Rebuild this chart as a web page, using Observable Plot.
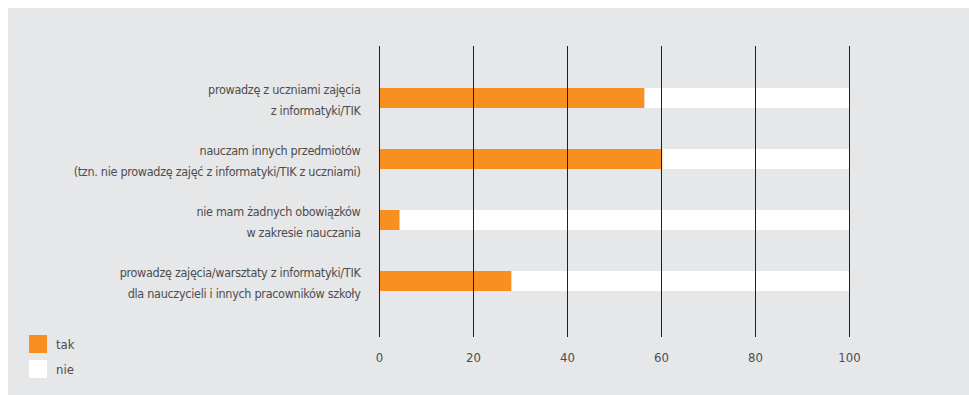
<!DOCTYPE html>
<html>
<head>
<meta charset="utf-8">
<script src="https://cdn.jsdelivr.net/npm/d3@7"></script>
<script src="https://cdn.jsdelivr.net/npm/@observablehq/plot@0.6"></script>
<style>
  html, body { margin: 0; padding: 0; background: #ffffff; }
  #wrap { position: relative; width: 969px; height: 395px; }
  #chart { position: absolute; left: 8px; top: 8px; width: 961px; height: 387px; background: #e6e7e8; }
  #chart svg { display: block; background: transparent; font-stretch: condensed; }
  #chart svg g[aria-label="y-axis tick label"] text { letter-spacing: -0.3px; }
  .legend { position: absolute; left: 29px; top: 335px; font-family: "DejaVu Sans", sans-serif; font-stretch: condensed; font-size: 13px; color: #4d4d4f; }
  .legend .row { display: flex; align-items: center; height: 18px; margin-bottom: 7px; }
  .legend .sw { width: 18px; height: 18px; margin-right: 9px; }
</style>
</head>
<body>
<div id="wrap">
  <div id="chart"></div>
</div>
<script>
// Categories (top to bottom) and shares in percent
const categories = [
  "prowadzę z uczniami zajęcia\nz informatyki/TIK",
  "nauczam innych przedmiotów\n(tzn. nie prowadzę zajęć z informatyki/TIK z uczniami)",
  "nie mam żadnych obowiązków\nw zakresie nauczania",
  "prowadzę zajęcia/warsztaty z informatyki/TIK\ndla nauczycieli i innych pracowników szkoły"
];
const tak = [56.5, 60.3, 4.4, 28.2];
const nie = [43.5, 39.7, 95.6, 71.8];
const seriesNames = ["tak", "nie"];
const seriesColors = ["#f7901e", "#ffffff"];
const xTicks = [0, 20, 40, 60, 80, 100];

const rows = [];
categories.forEach((c, i) => {
  rows.push({category: c, series: "tak", value: tak[i]});
  rows.push({category: c, series: "nie", value: nie[i]});
});

const font = "'DejaVu Sans', sans-serif";
const textColor = "#4d4d4f";

const chart = Plot.plot({
  width: 961,
  height: 387,
  marginLeft: 371,
  marginRight: 120,
  marginTop: 38,
  marginBottom: 58,
  style: {fontFamily: font, fontSize: "12.5px", color: textColor, background: "transparent"},
  x: {domain: [0, 100]},
  y: {domain: categories, range: [58.5, 305.1], paddingInner: 0.676, paddingOuter: 0.338},
  color: {domain: seriesNames, range: seriesColors},
  marks: [
    Plot.barX(rows, Plot.stackX({y: "category", x: "value", fill: "series", order: seriesNames})),
    Plot.ruleX(xTicks, {stroke: "#231f20", strokeWidth: 1}),
    Plot.axisX({ticks: xTicks, tickSize: 0, tickPadding: 15, label: null, fill: textColor, fontSize: 13}),
    Plot.axisY({tickSize: 0, tickPadding: 19, label: null, fill: textColor, fontSize: 12.5, lineHeight: 1.7, dy: -1})
  ]
});
document.getElementById("chart").appendChild(chart);

// Legend
const legend = document.createElement("div");
legend.className = "legend";
seriesNames.forEach((s, i) => {
  const row = document.createElement("div");
  row.className = "row";
  const sw = document.createElement("div");
  sw.className = "sw";
  sw.style.background = seriesColors[i];
  const label = document.createElement("span");
  label.textContent = s;
  row.appendChild(sw);
  row.appendChild(label);
  legend.appendChild(row);
});
document.getElementById("wrap").appendChild(legend);
</script>
</body>
</html>
